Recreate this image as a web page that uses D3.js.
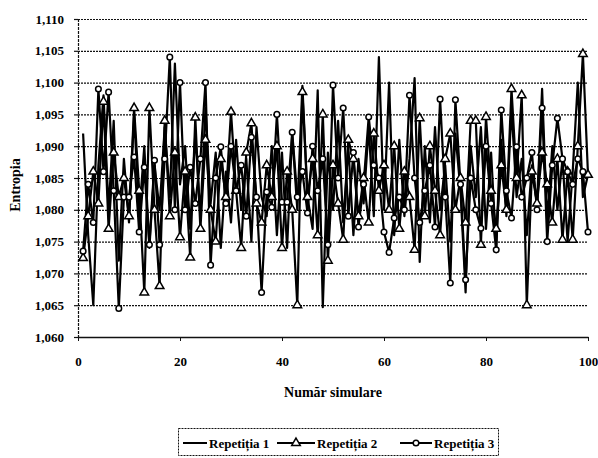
<!DOCTYPE html>
<html>
<head>
<meta charset="utf-8">
<script src="https://cdn.jsdelivr.net/npm/d3@7"></script>
<style>
  body { margin: 0; background: #fff; }
  text { font-family: "Liberation Serif", "Times New Roman", serif; fill: #000; }
  .grid line { stroke: #111; stroke-width: 1.2; stroke-dasharray: 2,1; }
  .grid path { display: none; }
</style>
</head>
<body>
<div class="chart"></div>
<script>
// simulation index 1..100
var simulations = d3.range(1, 101);

// Repetitia 1 (plain line)
var rep1 = [
  1.092, 1.076, 1.065, 1.087, 1.098, 1.080, 1.094, 1.072, 1.088, 1.078,
  1.095, 1.079, 1.090, 1.074, 1.087, 1.080, 1.093, 1.082, 1.103, 1.084,
  1.090, 1.077, 1.092, 1.079, 1.096, 1.081, 1.089, 1.074, 1.086, 1.078,
  1.091, 1.080, 1.088, 1.075, 1.093, 1.082, 1.079, 1.090, 1.076, 1.089,
  1.074, 1.092, 1.080, 1.0995, 1.082, 1.077, 1.0988, 1.0647, 1.089, 1.080,
  1.094, 1.078, 1.090, 1.076, 1.088, 1.081, 1.093, 1.079, 1.104, 1.080,
  1.100, 1.076, 1.091, 1.079, 1.088, 1.1007, 1.0718, 1.090, 1.078, 1.093,
  1.080, 1.087, 1.075, 1.092, 1.083, 1.067, 1.090, 1.082, 1.093, 1.077,
  1.089, 1.074, 1.091, 1.079, 1.096, 1.082, 1.088, 1.076, 1.087, 1.081,
  1.099, 1.078, 1.090, 1.080, 1.088, 1.075, 1.086, 1.100, 1.082, 1.0855
];

// Repetitia 2 (triangles)
var rep2 = [
  1.0724, 1.079, 1.086, 1.081, 1.097, 1.077, 1.089, 1.082, 1.085, 1.079,
  1.096, 1.083, 1.067, 1.096, 1.080, 1.068, 1.094, 1.079, 1.089, 1.0757,
  1.086, 1.0725, 1.0945, 1.077, 1.091, 1.080, 1.075, 1.088, 1.082, 1.0954,
  1.083, 1.074, 1.089, 1.0936, 1.081, 1.078, 1.087, 1.082, 1.090, 1.074,
  1.086, 1.080, 1.065, 1.0985, 1.082, 1.088, 1.076, 1.095, 1.072, 1.087,
  1.081, 1.0753, 1.091, 1.088, 1.079, 1.085, 1.078, 1.092, 1.083, 1.087,
  1.080, 1.090, 1.077, 1.086, 1.082, 1.0737, 1.0944, 1.079, 1.090, 1.083,
  1.076, 1.088, 1.092, 1.080, 1.085, 1.078, 1.094, 1.094, 1.0745, 1.0946,
  1.083, 1.077, 1.087, 1.080, 1.099, 1.085, 1.098, 1.065, 1.086, 1.081,
  1.089, 1.084, 1.078, 1.088, 1.0753, 1.086, 1.0753, 1.090, 1.1045, 1.0855
];

// Repetitia 3 (circles)
var rep3 = [
  1.0735, 1.084, 1.078, 1.099, 1.086, 1.0985, 1.083, 1.0645, 1.082, 1.082,
  1.0883, 1.0765, 1.0867, 1.0745, 1.0878, 1.0745, 1.088, 1.104, 1.080, 1.100,
  1.080, 1.0867, 1.081, 1.088, 1.100, 1.0713, 1.085, 1.0899, 1.081, 1.090,
  1.083, 1.087, 1.079, 1.0914, 1.082, 1.067, 1.0828, 1.0804, 1.095, 1.0812,
  1.0812, 1.0922, 1.082, 1.086, 1.0795, 1.090, 1.083, 1.088, 1.0745, 1.0996,
  1.085, 1.096, 1.079, 1.089, 1.0773, 1.084, 1.0946, 1.087, 1.085, 1.0765,
  1.0733, 1.0787, 1.082, 1.080, 1.098, 1.085, 1.078, 1.083, 1.087, 1.0773,
  1.0974, 1.082, 1.0685, 1.0973, 1.084, 1.069, 1.085, 1.080, 1.0771, 1.090,
  1.081, 1.0737, 1.0957, 1.083, 1.0787, 1.0899, 1.082, 1.085, 1.089, 1.080,
  1.096, 1.075, 1.087, 1.0944, 1.088, 1.086, 1.084, 1.088, 1.086, 1.0765
];

var yTicks = [1.060, 1.065, 1.070, 1.075, 1.080, 1.085, 1.090, 1.095, 1.100, 1.105, 1.110];
var xTicks = [0, 20, 40, 60, 80, 100];
var seriesNames = ["Repetiția 1", "Repetiția 2", "Repetiția 3"];

var margin = { top: 19, right: 10, bottom: 121, left: 78 },
  width = 598,
  height = 458,
  chart_width = width - margin.left - margin.right,
  chart_height = height - margin.top - margin.bottom;

var svg = d3
  .select(".chart")
  .append("svg")
  .attr("width", width)
  .attr("height", height);

svg.append("rect").attr("width", width).attr("height", height).attr("fill", "#fff");

var g = svg.append("g")
  .attr("transform", "translate(" + margin.left + "," + margin.top + ")");

var xScale = d3.scaleLinear().domain([0, 100]).range([0, chart_width]);
var yScale = d3.scaleLinear().domain([1.06, 1.11]).range([chart_height, 0]);

var commaFmt = function (d) { return d3.format(".3f")(d).replace(".", ","); };

// horizontal gridlines
g.append("g")
  .attr("class", "grid")
  .call(d3.axisLeft(yScale).tickValues(yTicks).tickSize(-chart_width).tickFormat(""));

// y axis
var yAxis = g.append("g")
  .attr("class", "axis axis--y")
  .call(d3.axisLeft(yScale).tickValues(yTicks).tickSize(4).tickPadding(10).tickFormat(commaFmt));
yAxis.select(".domain").attr("stroke", "#111").attr("stroke-width", 1.2).attr("stroke-dasharray", "3,1");
yAxis.selectAll("line").attr("stroke", "#111").attr("stroke-width", 1.2);
yAxis.selectAll("text")
  .attr("font-size", "13px")
  .attr("font-weight", "bold")
  .style("font-family", "'Liberation Serif', serif");

// x axis
var xAxis = g.append("g")
  .attr("class", "axis axis--x")
  .attr("transform", "translate(0," + chart_height + ")")
  .call(d3.axisBottom(xScale).tickValues(xTicks).tickSize(4).tickSizeOuter(0).tickPadding(16).tickFormat(d3.format("d")));
xAxis.select(".domain").attr("stroke", "#111").attr("stroke-width", 1.4);
xAxis.selectAll("line").attr("stroke", "#111");
xAxis.selectAll("text")
  .attr("font-size", "13px")
  .attr("font-weight", "bold")
  .style("font-family", "'Liberation Serif', serif");

// lines
var lineGen = d3.line()
  .x(function (d, i) { return xScale(simulations[i]); })
  .y(function (d) { return yScale(d); });

var allSeries = [rep1, rep2, rep3];
var lines = g.append("g").attr("class", "lines");
allSeries.forEach(function (s) {
  lines.append("path")
    .attr("d", lineGen(s))
    .attr("fill", "none")
    .attr("stroke", "#000")
    .attr("stroke-width", 2.2)
    .attr("stroke-linejoin", "round");
});

var triangle = d3.symbol().type(d3.symbolTriangle).size(32);

// triangles for rep2
lines.selectAll(".tri")
  .data(rep2)
  .enter()
  .append("path")
  .attr("class", "tri")
  .attr("d", triangle)
  .attr("transform", function (d, i) { return "translate(" + xScale(simulations[i]) + "," + yScale(d) + ")"; })
  .attr("fill", "#fff")
  .attr("stroke", "#000")
  .attr("stroke-width", 1.5);

// circles for rep3
lines.selectAll(".dot")
  .data(rep3)
  .enter()
  .append("circle")
  .attr("class", "dot")
  .attr("cx", function (d, i) { return xScale(simulations[i]); })
  .attr("cy", function (d) { return yScale(d); })
  .attr("r", 2.8)
  .attr("fill", "#fff")
  .attr("stroke", "#000")
  .attr("stroke-width", 1.5);

// axis titles
svg.append("text")
  .attr("transform", "rotate(-90)")
  .attr("x", -185)
  .attr("y", 20)
  .style("text-anchor", "middle")
  .attr("font-size", "14px")
  .attr("font-weight", "bold")
  .text("Entropia");

svg.append("text")
  .attr("x", 333)
  .attr("y", 397)
  .style("text-anchor", "middle")
  .attr("font-size", "14px")
  .attr("font-weight", "bold")
  .text("Număr simulare");

// legend
var legend = svg.append("g").attr("class", "legend");
legend.append("rect")
  .attr("x", 178.5)
  .attr("y", 428.5)
  .attr("width", 320)
  .attr("height", 27)
  .attr("fill", "#fff")
  .attr("stroke", "#111")
  .attr("stroke-dasharray", "2,1");

var legendX = [183, 277, 400];
var legendW = [24, 38, 32];
var legendY = 443;
seriesNames.forEach(function (name, i) {
  var x0 = legendX[i], x1 = legendX[i] + legendW[i];
  legend.append("line")
    .attr("x1", x0).attr("x2", x1)
    .attr("y1", legendY).attr("y2", legendY)
    .attr("stroke", "#000")
    .attr("stroke-width", 2);
  if (i === 1) {
    legend.append("path")
      .attr("d", triangle)
      .attr("transform", "translate(" + (x0 + x1) / 2 + "," + legendY + ")")
      .attr("fill", "#fff").attr("stroke", "#000").attr("stroke-width", 1.5);
  }
  if (i === 2) {
    legend.append("circle")
      .attr("cx", (x0 + x1) / 2).attr("cy", legendY).attr("r", 2.8)
      .attr("fill", "#fff").attr("stroke", "#000").attr("stroke-width", 1.5);
  }
  legend.append("text")
    .attr("x", x1 + 2)
    .attr("y", legendY + 4.5)
    .attr("font-size", "13px")
    .attr("font-weight", "bold")
    .text(name);
});
</script>
</body>
</html>
